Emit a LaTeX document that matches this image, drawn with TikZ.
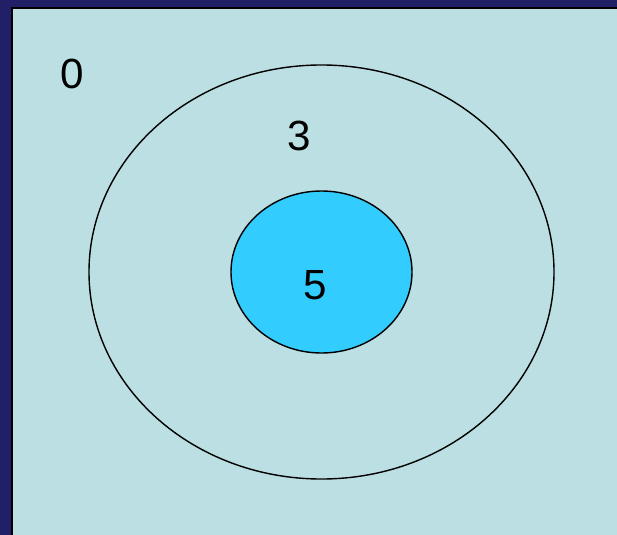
\documentclass[tikz,border=0pt]{standalone}
\usepackage{fontspec}
\setmainfont{Liberation Sans}
\usetikzlibrary{shapes.geometric,positioning}
\definecolor{FrameNavy}{HTML}{211F66}
\definecolor{PaleCyan}{HTML}{BBDFE2}
\definecolor{SkyBlue}{HTML}{33CCFF}

\begin{document}
\begin{tikzpicture}[
    x=0.03cm, y=-0.03cm,
    ring/.style={draw=black, ellipse, line width=1.2pt, inner sep=0pt},
    num/.style={font=\fontsize{36}{40}\selectfont, inner sep=0pt}
  ]
    \useasboundingbox (0, 0) rectangle (617, 535);
    \fill[FrameNavy] (0, 0) rectangle (617, 535);
    \draw[fill=PaleCyan, line width=1.8pt] (12, 8) rectangle (640, 560);

    \node[ring, minimum width=13.95cm, minimum height=12.42cm] (outer) at (321.5, 272) {};
    \node[ring, fill=SkyBlue, minimum width=5.43cm, minimum height=4.86cm] (inner) at (321.5, 272) {};

    \node[num] (zero) at (72, 74) {0};
    \node[num] (three) at (299, 136) {3};
    \node[num] (five) at (315, 285) {5};
  \end{tikzpicture}
\end{document}
